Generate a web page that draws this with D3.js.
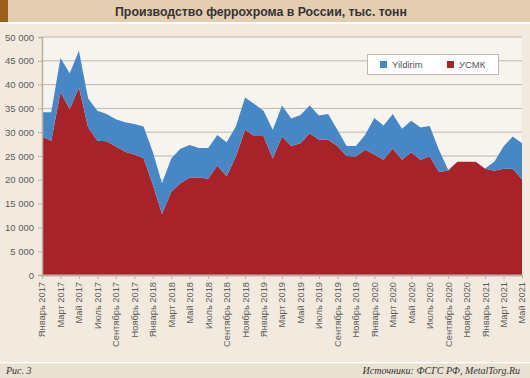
<!DOCTYPE html>
<html lang="ru">
<head>
<meta charset="UTF-8">
<title>Ферросплавы</title>
<script src="https://cdn.jsdelivr.net/npm/d3@7"></script>
<style>
    body{ margin:0; background:#f2eadf; }
    svg{ display:block; font-family:"Liberation Sans", Arial, sans-serif; }
    .tick text{ fill:#5a5a5a; }
</style>
</head>
<body>
<svg width="530" height="378"></svg>
<script>
    // месяцы: январь 2017 .. май 2021
    const monthNames = ["Январь","Февраль","Март","Апрель","Май","Июнь","Июль","Август","Сентябрь","Октябрь","Ноябрь","Декабрь"];
    const months = [];
    for (let yr = 2017; yr <= 2021; yr++) {
        for (let m = 0; m < 12; m++) {
            if (yr === 2021 && m > 4) break;
            months.push(monthNames[m] + " " + yr);
        }
    }

    // тыс. тонн
    const usmk = [29.1,28.2,38.4,34.9,39.4,31.0,28.2,28.1,27.0,25.9,25.3,24.6,
                  19.0,12.8,17.5,19.3,20.5,20.5,20.2,23.0,20.7,24.9,30.5,29.2,
                  29.2,24.5,29.1,27.1,27.7,29.8,28.4,28.4,27.1,25.0,24.9,26.3,
                  25.3,24.2,26.6,24.2,25.8,24.2,24.9,21.7,21.9,23.8,23.8,23.8,
                  22.3,21.9,22.3,22.3,20.1];
    const yildirim = [5.1,6.0,7.2,7.5,7.7,6.1,6.3,5.7,5.7,6.2,6.4,6.6,
                      6.9,6.5,7.0,7.2,6.8,6.2,6.5,6.4,7.2,6.3,6.8,6.7,
                      5.3,6.0,6.5,5.8,5.9,5.8,5.1,5.4,3.4,2.1,2.2,3.1,
                      7.7,7.2,7.2,6.5,6.6,6.8,6.4,4.6,0.2,0,0,0,
                      0.1,1.9,4.7,6.8,7.6];
    const yTicks = [0,5000,10000,15000,20000,25000,30000,35000,40000,45000,50000];

    const rows = months.map((m,i)=>({month:m, usmk:usmk[i]*1000, yildirim:yildirim[i]*1000}));

    const svg = d3.select("svg");
    const W = 530, H = 378;
    const mLeft = 42, mRight = 522, mTop = 37, mBottom = 275;

    // шапка
    svg.append("rect").attr("x",0).attr("y",0).attr("width",W).attr("height",22).attr("fill","#e3ceb1");
    svg.append("rect").attr("x",0).attr("y",0).attr("width",8).attr("height",22).attr("fill","#9b601c");
    svg.append("rect").attr("x",0).attr("y",22).attr("width",W).attr("height",2).attr("fill","#ffffff");
    svg.append("text").attr("x",261).attr("y",15.5).attr("text-anchor","middle")
        .attr("font-size","12.3px").attr("font-weight","bold").attr("fill","#333")
        .text("Производство феррохрома в России, тыс. тонн");

    // подвал
    svg.append("rect").attr("x",0).attr("y",362).attr("width",W).attr("height",1.5).attr("fill","#ffffff");
    svg.append("rect").attr("x",0).attr("y",363.5).attr("width",W).attr("height",H-363.5).attr("fill","#ebe1d2");
    svg.append("text").attr("x",6).attr("y",374).attr("font-family","'Liberation Serif', serif")
        .attr("font-style","italic").attr("font-size","10px").attr("fill","#333").text("Рис. 3");
    svg.append("text").attr("x",520).attr("y",374).attr("text-anchor","end").attr("font-family","'Liberation Serif', serif")
        .attr("font-style","italic").attr("font-size","10px").attr("fill","#333").text("Источники: ФСГС РФ, MetalTorg.Ru");

    const x = d3.scalePoint().domain(months).range([mLeft, mRight]);
    const y = d3.scaleLinear().domain([0,50000]).range([mBottom, mTop]);

    svg.append("rect").attr("x",mLeft).attr("y",mTop).attr("width",mRight-mLeft).attr("height",mBottom-mTop).attr("fill","#f7f4ee");

    // сетка
    svg.append("g").selectAll("line").data(yTicks.slice(1)).join("line")
        .attr("x1",mLeft).attr("x2",mRight).attr("y1",d=>y(d)).attr("y2",d=>y(d))
        .attr("stroke","#bdb8b0").attr("stroke-width",1);

    const stack = d3.stack().keys(["usmk","yildirim"])(rows);
    const colors = {usmk:"#a82328", yildirim:"#4688c6"};
    const area = d3.area()
        .x(d=>x(d.data.month))
        .y0(d=>y(d[0]))
        .y1(d=>y(d[1]));
    svg.append("g").selectAll("path").data(stack).join("path")
        .attr("fill",d=>colors[d.key])
        .attr("d",area);

    const fmt = v => d3.format(",")(v).replace(/,/g," ");
    const yAxis = svg.append("g").attr("transform",`translate(${mLeft},0)`)
        .call(d3.axisLeft(y).tickValues(yTicks).tickFormat(fmt).tickSize(4).tickPadding(4));
    yAxis.select(".domain").attr("stroke","#b8b2a8").attr("stroke-width",1.5);
    yAxis.selectAll(".tick line").attr("stroke","#b8b2a8");
    yAxis.selectAll("text").attr("font-size","9.5px").attr("font-family","'Liberation Sans', Arial, sans-serif");

    const xAxis = svg.append("g").attr("transform",`translate(0,${mBottom})`)
        .call(d3.axisBottom(x).tickValues(months.filter((m,i)=>i%2===0)).tickSize(4).tickSizeOuter(0));
    xAxis.select(".domain").attr("stroke","#b8b2a8").attr("stroke-width",2);
    xAxis.selectAll(".tick line").attr("stroke","#b8b2a8");
    xAxis.selectAll("text")
        .attr("font-size","9.3px").attr("font-family","'Liberation Sans', Arial, sans-serif")
        .attr("text-anchor","end").attr("dy","0.32em").attr("dx","0")
        .attr("transform","rotate(-90)").attr("x",-7).attr("y",0);

    // легенда
    const lg = svg.append("g");
    lg.append("rect").attr("x",367.5).attr("y",54.5).attr("width",131).attr("height",20)
        .attr("fill","#ffffff").attr("stroke","#bdb8b0");
    const items = [{key:"yildirim", label:"Yildirim", x:380}, {key:"usmk", label:"УСМК", x:447}];
    items.forEach(it=>{
        lg.append("rect").attr("x",it.x).attr("y",61).attr("width",7).attr("height",7).attr("fill",colors[it.key]);
        lg.append("text").attr("x",it.x+12).attr("y",68).attr("font-size","9.5px").attr("fill","#555").text(it.label);
    });
</script>
</body>
</html>
